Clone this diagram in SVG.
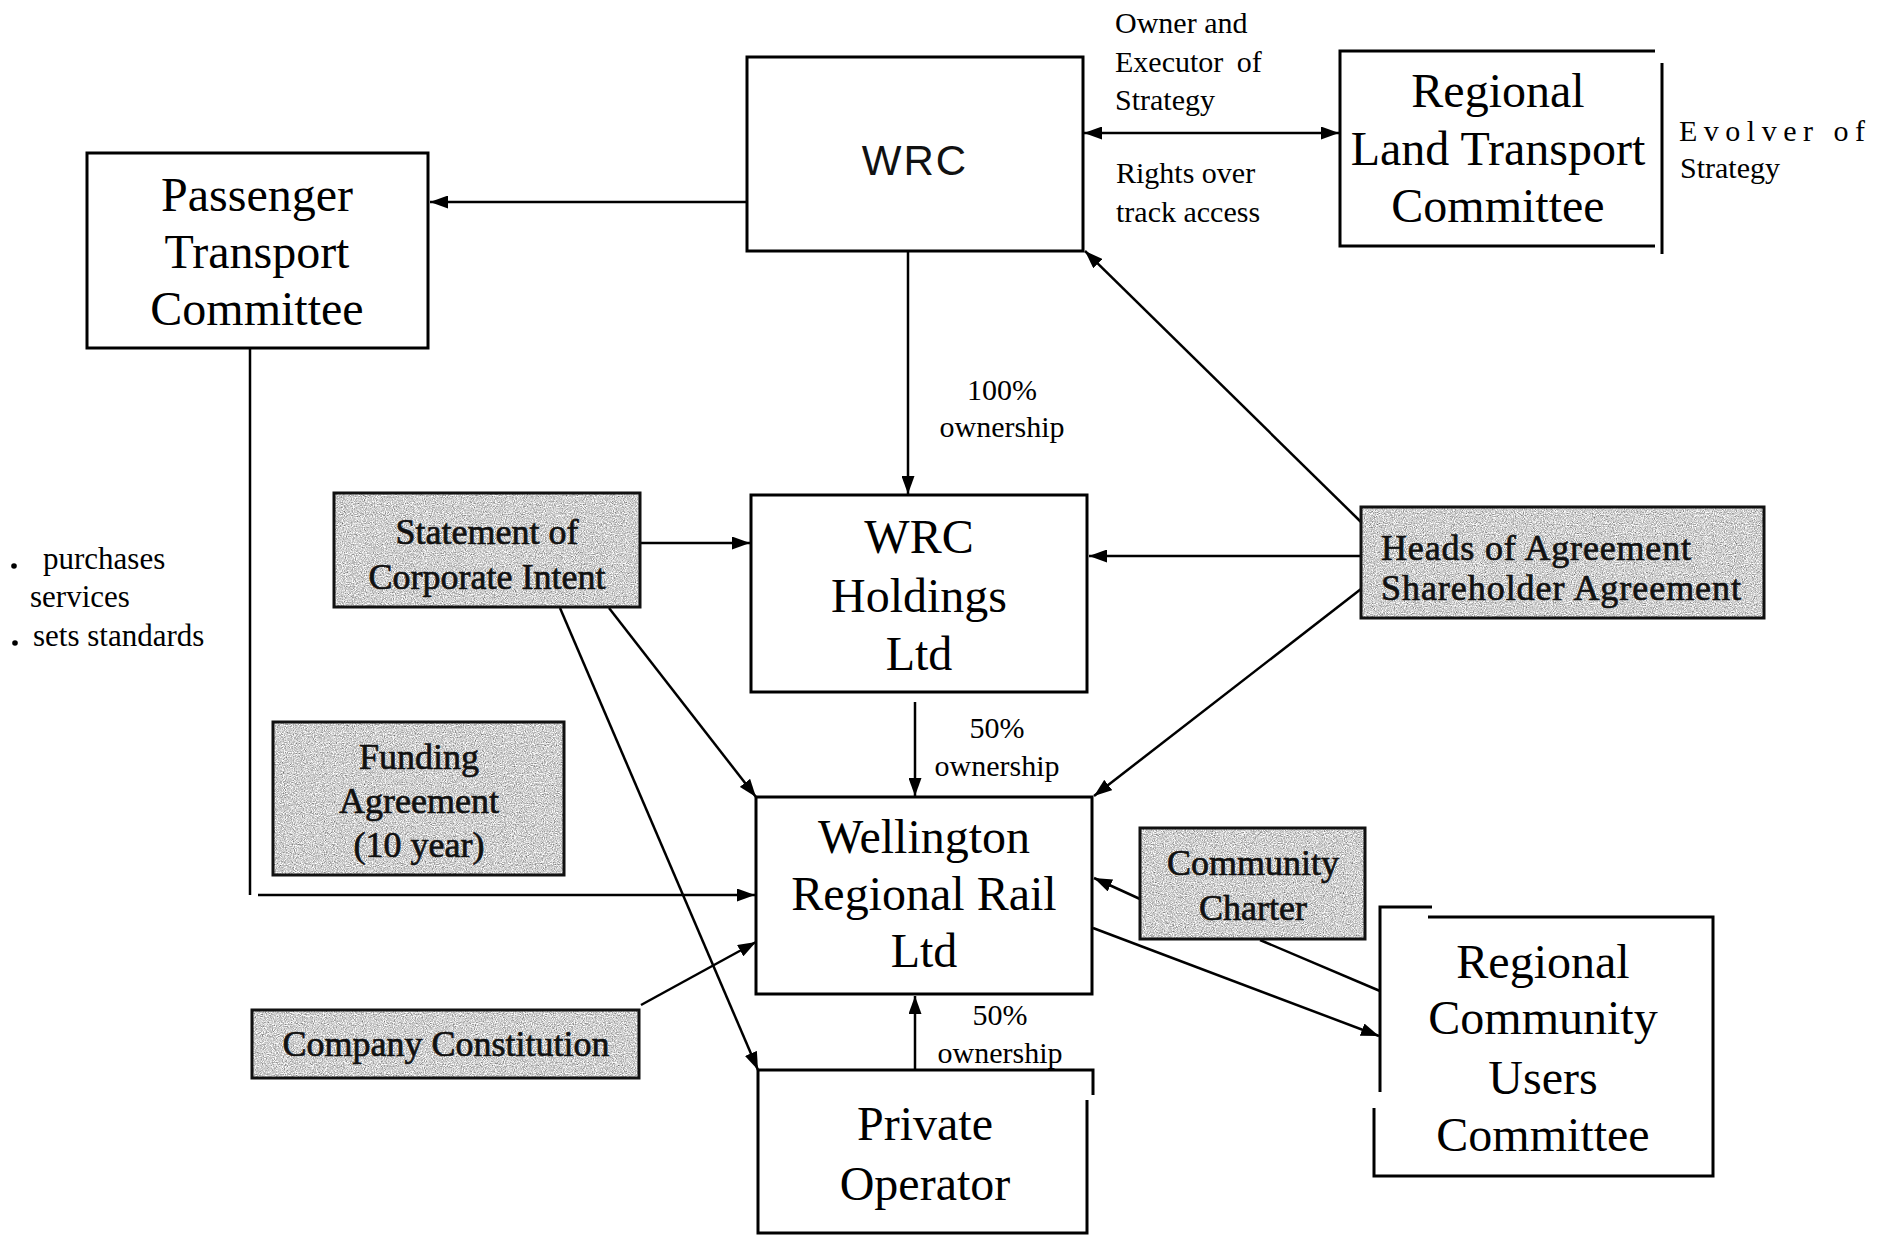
<svg xmlns="http://www.w3.org/2000/svg" width="1890" height="1237" viewBox="0 0 1890 1237">
<style>
.box{fill:none;stroke:#000;stroke-width:3}
.gbox{fill:none;stroke:#111;stroke-width:3}
.ln{fill:none;stroke:#000;stroke-width:2.5}
.t{font-family:"Liberation Serif","Times New Roman",serif;fill:#000}
.big{font-size:48px;text-anchor:middle}
.lab{font-size:30px}
.gt{font-size:36px;fill:#111;stroke:#111;stroke-width:0.7}
.sans{font-family:"Liberation Sans",Arial,sans-serif;font-size:42px;letter-spacing:2px;text-anchor:middle;fill:#111}
</style>
<defs>
<marker id="ah" viewBox="0 0 18 13" refX="18" refY="6.5" markerWidth="18" markerHeight="13" markerUnits="userSpaceOnUse" orient="auto-start-reverse">
<path d="M0,0 L18,6.5 L0,13 z" fill="#000"/>
</marker>
<filter id="grain" x="0" y="0" width="100%" height="100%" color-interpolation-filters="sRGB">
<feTurbulence type="fractalNoise" baseFrequency="0.9" numOctaves="2" seed="4" result="n"/>
<feColorMatrix in="n" type="matrix" values="0.33 0.33 0.33 0 0  0.33 0.33 0.33 0 0  0.33 0.33 0.33 0 0  0 0 0 0 1" result="g"/>
<feComponentTransfer in="g" result="m">
<feFuncR type="linear" slope="1.5" intercept="0.07"/>
<feFuncG type="linear" slope="1.5" intercept="0.07"/>
<feFuncB type="linear" slope="1.5" intercept="0.07"/>
</feComponentTransfer>
<feComposite in="m" in2="SourceGraphic" operator="in"/>
</filter>
</defs>

<g id="connectors">
<path class="ln" d="M747,202 L430,202" marker-end="url(#ah)"/>
<path class="ln" d="M1084,133 L1339,133" marker-start="url(#ah)" marker-end="url(#ah)"/>
<path class="ln" d="M908,251 L908,494" marker-end="url(#ah)"/>
<path class="ln" d="M915,702 L915,796" marker-end="url(#ah)"/>
<path class="ln" d="M915,1070 L915,996" marker-end="url(#ah)"/>
<path class="ln" d="M250,348 L250,895"/>
<path class="ln" d="M258,895 L755,895" marker-end="url(#ah)"/>
<path class="ln" d="M640,543 L750,543" marker-end="url(#ah)"/>
<path class="ln" d="M609,608 L756,797" marker-end="url(#ah)"/>
<path class="ln" d="M560,608 L758,1070" marker-end="url(#ah)"/>
<path class="ln" d="M1361,522 L1085,251" marker-end="url(#ah)"/>
<path class="ln" d="M1361,556 L1089,556" marker-end="url(#ah)"/>
<path class="ln" d="M1361,589 L1094,796" marker-end="url(#ah)"/>
<path class="ln" d="M641,1005 L756,942" marker-end="url(#ah)"/>
<path class="ln" d="M1140,899 L1094,878" marker-end="url(#ah)"/>
<path class="ln" d="M1380,991 L1260,940"/>
<path class="ln" d="M1093,928 L1379,1036" marker-end="url(#ah)"/>
</g>

<g id="wrc">
<rect class="box" x="747" y="57" width="336" height="194"/>
<text class="sans" x="915" y="175">WRC</text>
</g>

<g id="ptc">
<rect class="box" x="87" y="153" width="341" height="195"/>
<text class="t big" x="257" y="211">Passenger</text>
<text class="t big" x="257" y="268">Transport</text>
<text class="t big" x="257" y="325">Committee</text>
</g>

<g id="ltc">
<path class="box" d="M1655,51 L1340,51 L1340,246 L1655,246"/>
<path class="box" d="M1662,63 L1662,254"/>
<text class="t big" x="1498" y="107">Regional</text>
<text class="t big" x="1498" y="165">Land Transport</text>
<text class="t big" x="1498" y="222">Committee</text>
</g>

<g id="wrc-labels">
<text class="t lab" x="1115" y="33" font-size="31">Owner and</text>
<text class="t lab" x="1115" y="72" font-size="31" word-spacing="6">Executor of</text>
<text class="t lab" x="1115" y="110" font-size="31">Strategy</text>
<text class="t lab" x="1116" y="183" font-size="31">Rights over</text>
<text class="t lab" x="1116" y="222" font-size="31">track access</text>
<text class="t lab" x="1679" y="141" letter-spacing="6.5">Evolver of</text>
<text class="t lab" x="1680" y="178">Strategy</text>
</g>

<g id="ownership-labels">
<text class="t lab" x="1002" y="400" text-anchor="middle">100%</text>
<text class="t lab" x="1002" y="437" text-anchor="middle">ownership</text>
<text class="t lab" x="997" y="738" text-anchor="middle">50%</text>
<text class="t lab" x="997" y="776" text-anchor="middle">ownership</text>
<text class="t lab" x="1000" y="1025" text-anchor="middle">50%</text>
<text class="t lab" x="1000" y="1063" text-anchor="middle">ownership</text>
</g>

<g id="ptc-notes">
<circle cx="14" cy="566" r="2.8" fill="#000"/>
<text class="t" font-size="31" x="43" y="569">purchases</text>
<text class="t" font-size="31" x="30" y="607">services</text>
<circle cx="15" cy="643" r="2.8" fill="#000"/>
<text class="t" font-size="31" x="33" y="646">sets standards</text>
</g>

<g id="holdings">
<rect class="box" x="751" y="495" width="336" height="197"/>
<text class="t big" x="919" y="553">WRC</text>
<text class="t big" x="919" y="612">Holdings</text>
<text class="t big" x="919" y="670">Ltd</text>
</g>

<g id="wrr">
<rect class="box" x="756" y="797" width="336" height="197"/>
<text class="t big" x="924" y="853">Wellington</text>
<text class="t big" x="924" y="910">Regional Rail</text>
<text class="t big" x="924" y="967">Ltd</text>
</g>

<g id="operator">
<path class="box" d="M1093,1095 L1093,1070 L758,1070 L758,1233 L1087,1233 L1087,1100"/>
<text class="t big" x="925" y="1140">Private</text>
<text class="t big" x="925" y="1200">Operator</text>
</g>

<g id="rcuc">
<path class="box" d="M1432,907 L1380,907 L1380,1092"/>
<path class="box" d="M1428,917 L1713,917 L1713,1176 L1374,1176 L1374,1108"/>
<text class="t big" x="1543" y="978">Regional</text>
<text class="t big" x="1543" y="1034">Community</text>
<text class="t big" x="1543" y="1094">Users</text>
<text class="t big" x="1543" y="1151">Committee</text>
</g>

<g id="sci">
<rect x="334" y="493" width="306" height="114" fill="#000" filter="url(#grain)"/>
<rect class="gbox" x="334" y="493" width="306" height="114"/>
<text class="t gt" x="487" y="544" text-anchor="middle">Statement of</text>
<text class="t gt" x="487" y="589" text-anchor="middle">Corporate Intent</text>
</g>

<g id="funding">
<rect x="273" y="722" width="291" height="153" fill="#000" filter="url(#grain)"/>
<rect class="gbox" x="273" y="722" width="291" height="153"/>
<text class="t gt" x="419" y="769" text-anchor="middle">Funding</text>
<text class="t gt" x="419" y="813" text-anchor="middle">Agreement</text>
<text class="t gt" x="419" y="857" text-anchor="middle">(10 year)</text>
</g>

<g id="constitution">
<rect x="252" y="1010" width="387" height="68" fill="#000" filter="url(#grain)"/>
<rect class="gbox" x="252" y="1010" width="387" height="68"/>
<text class="t gt" x="446" y="1056" text-anchor="middle">Company Constitution</text>
</g>

<g id="heads">
<rect x="1361" y="507" width="403" height="111" fill="#000" filter="url(#grain)"/>
<rect class="gbox" x="1361" y="507" width="403" height="111"/>
<text class="t gt" x="1381" y="560" textLength="310">Heads of Agreement</text>
<text class="t gt" x="1381" y="600" textLength="360">Shareholder Agreement</text>
</g>

<g id="charter">
<rect x="1140" y="828" width="225" height="111" fill="#000" filter="url(#grain)"/>
<rect class="gbox" x="1140" y="828" width="225" height="111"/>
<text class="t gt" x="1253" y="875" text-anchor="middle">Community</text>
<text class="t gt" x="1253" y="920" text-anchor="middle">Charter</text>
</g>
</svg>
